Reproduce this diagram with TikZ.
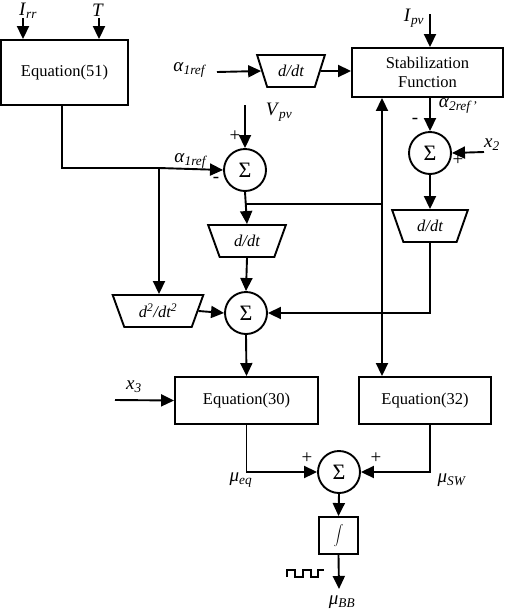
\documentclass[tikz,border=0pt]{standalone}
\usepackage{fontspec}
\setmainfont{Liberation Serif}
\usetikzlibrary{arrows.meta,shapes.geometric}

\newcommand{\bigfont}{\fontsize{16.5}{19}\selectfont}
\newcommand{\sig}[2]{\textit{#1}\textsubscript{\textit{#2}}}

\tikzset{
  arr/.style={-{Triangle[length=13pt,width=12pt]}},
  block/.style={draw, rectangle, inner sep=2pt, align=center, font=\bigfont},
  sumnode/.style={draw, circle, inner sep=0pt, minimum size=42pt, font=\fontsize{22}{22}\selectfont},
  diffblock/.style={draw, trapezium, trapezium stretches=true, shape border rotate=180,
    trapezium left angle=65, trapezium right angle=65, minimum height=32pt, inner sep=0pt,
    font=\bigfont\itshape},
  lab/.style={inner sep=0pt, font=\fontsize{19}{19}\selectfont},
  sgn/.style={inner sep=0pt, font=\fontsize{19}{19}\selectfont}
}

\begin{document}
\begin{tikzpicture}[x=1pt,y=-1pt,line width=1.9pt]
    \useasboundingbox (0,0) rectangle (505,611);

    % Blocks
    \node[block, minimum width=127pt, minimum height=65pt] (eq51) at (64.5,72.5) {Equation(51)};
    \node[block, minimum width=151pt, minimum height=49pt] (stab) at (427.5,72.5) {Stabilization\\Function};
    \node[block, minimum width=143pt, minimum height=47pt] (eq30) at (246.5,400.5) {Equation(30)};
    \node[block, minimum width=132pt, minimum height=47pt] (eq32) at (425,400.5) {Equation(32)};
    \node[block, minimum width=39pt, minimum height=37pt, inner sep=0pt, font=\fontsize{22}{22}\selectfont] (integ) at (338.5,535.5) {$\displaystyle\int$};

    % Derivative blocks
    \node[diffblock, minimum width=68pt] (ddtA) at (291,71) {d/dt};
    \node[diffblock, minimum width=78pt] (ddtC) at (247,241) {d/dt};
    \node[diffblock, minimum width=76pt] (ddtB) at (430,226) {d/dt};
    \node[diffblock, minimum width=91pt] (ddtt) at (158,311) {d\textsuperscript{2}/dt\textsuperscript{2}};

    % Summing junctions
    \node[sumnode] (sumA) at (245,170) {Σ};
    \node[sumnode] (sumB) at (430,153) {Σ};
    \node[sumnode] (sumC) at (246,313) {Σ};
    \node[sumnode] (sumD) at (339,472) {Σ};

    % Free ends
    \coordinate (irr) at (23,18);
    \coordinate (tin) at (99,18);
    \coordinate (aref) at (217,72);
    \coordinate (ipv) at (430,14);
    \coordinate (vpv) at (245,105);
    \coordinate (xtwo) at (484,152);
    \coordinate (xthree) at (115,400);
    \coordinate (out) at (339,589);
    \coordinate (jA) at (62,168);
    \coordinate (jB) at (159,168);
    \coordinate (jC) at (245,204);
    \coordinate (jD) at (382,204);

    % Labels
    \node[lab] (lirr) at (28,11) {\sig{I}{rr}};
    \node[lab] (lt) at (98,10) {\textit{T}};
    \node[lab] (laref) at (190,70) {\sig{α}{1ref}};
    \node[lab] (lipv) at (414,18) {\sig{I}{pv}};
    \node[lab] (lvpv) at (279,112) {\sig{V}{pv}};
    \node[lab] (larefb) at (191,161) {\sig{α}{1ref}};
    \node[lab] (latwo) at (458,106) {\sig{α}{2ref\,'}};
    \node[lab] (lxtwo) at (492,145) {\sig{x}{2}};
    \node[lab] (lxthree) at (134,387) {\sig{x}{3}};
    \node[lab] (lmeq) at (241,480) {\sig{μ}{eq}};
    \node[lab] (lmsw) at (452,480) {\sig{μ}{SW}};
    \node[lab] (lmbb) at (342,602) {\sig{μ}{BB}};
    \node[sgn] (pA) at (235,136) {+};
    \node[sgn] (mA) at (216,180) {-};
    \node[sgn] (mB) at (415,121) {-};
    \node[sgn] (pB) at (458,160) {+};
    \node[sgn] (pD) at (307,458) {+};
    \node[sgn] (pE) at (376,458) {+};

    % Connectors
    \draw[arr] (irr) -- (irr |- eq51.north);
    \draw[arr] (tin) -- (tin |- eq51.north);
    \draw[arr] (aref) -- (ddtA.west);
    \draw[arr] (ddtA.east) -- (stab.west |- ddtA.east);
    \draw[arr] (ipv) -- (ipv |- stab.north);
    \draw (eq51.south -| jA) -- (jA) -- (jB);
    \draw[arr] (jB) -- (sumA.west);
    \draw[arr] (jB) -- (jB |- ddtt.north);
    \draw[arr] (vpv) -- (sumA.north);
    \draw[arr] (sumA.south) -- (ddtC.north);
    \draw (jC) -- (jD);
    \draw[arr] (jD) -- (jD |- stab.south);
    \draw[arr] (jD) -- (jD |- eq32.north);
    \draw[arr] (sumB |- stab.south) -- (sumB.north);
    \draw[arr] (xtwo) -- (sumB.east);
    \draw[arr] (sumB.south) -- (ddtB.north);
    \draw[arr] (ddtB.south) |- (sumC.east);
    \draw[arr] (ddtC.south) -- (sumC.north);
    \draw[arr] (ddtt.east) -- (sumC.west);
    \draw[arr] (sumC.south) -- (eq30.north);
    \draw[arr] (xthree) -- (eq30.west);
    \draw[arr] (eq30.south) |- (sumD.west);
    \draw[arr] (eq32.south -| ddtB) |- (sumD.east);
    \draw[arr] (sumD.south) -- (integ.north);
    \draw[arr] (integ.south) -- (out);

    % Switching signal
    \draw[line width=1.5pt] (287,577) -- (287,570) -- (295,570) -- (295,577) -- (303,577) -- (303,570)
        -- (311,570) -- (311,577) -- (318,577) -- (318,570) -- (324,570);
\end{tikzpicture}
\end{document}
